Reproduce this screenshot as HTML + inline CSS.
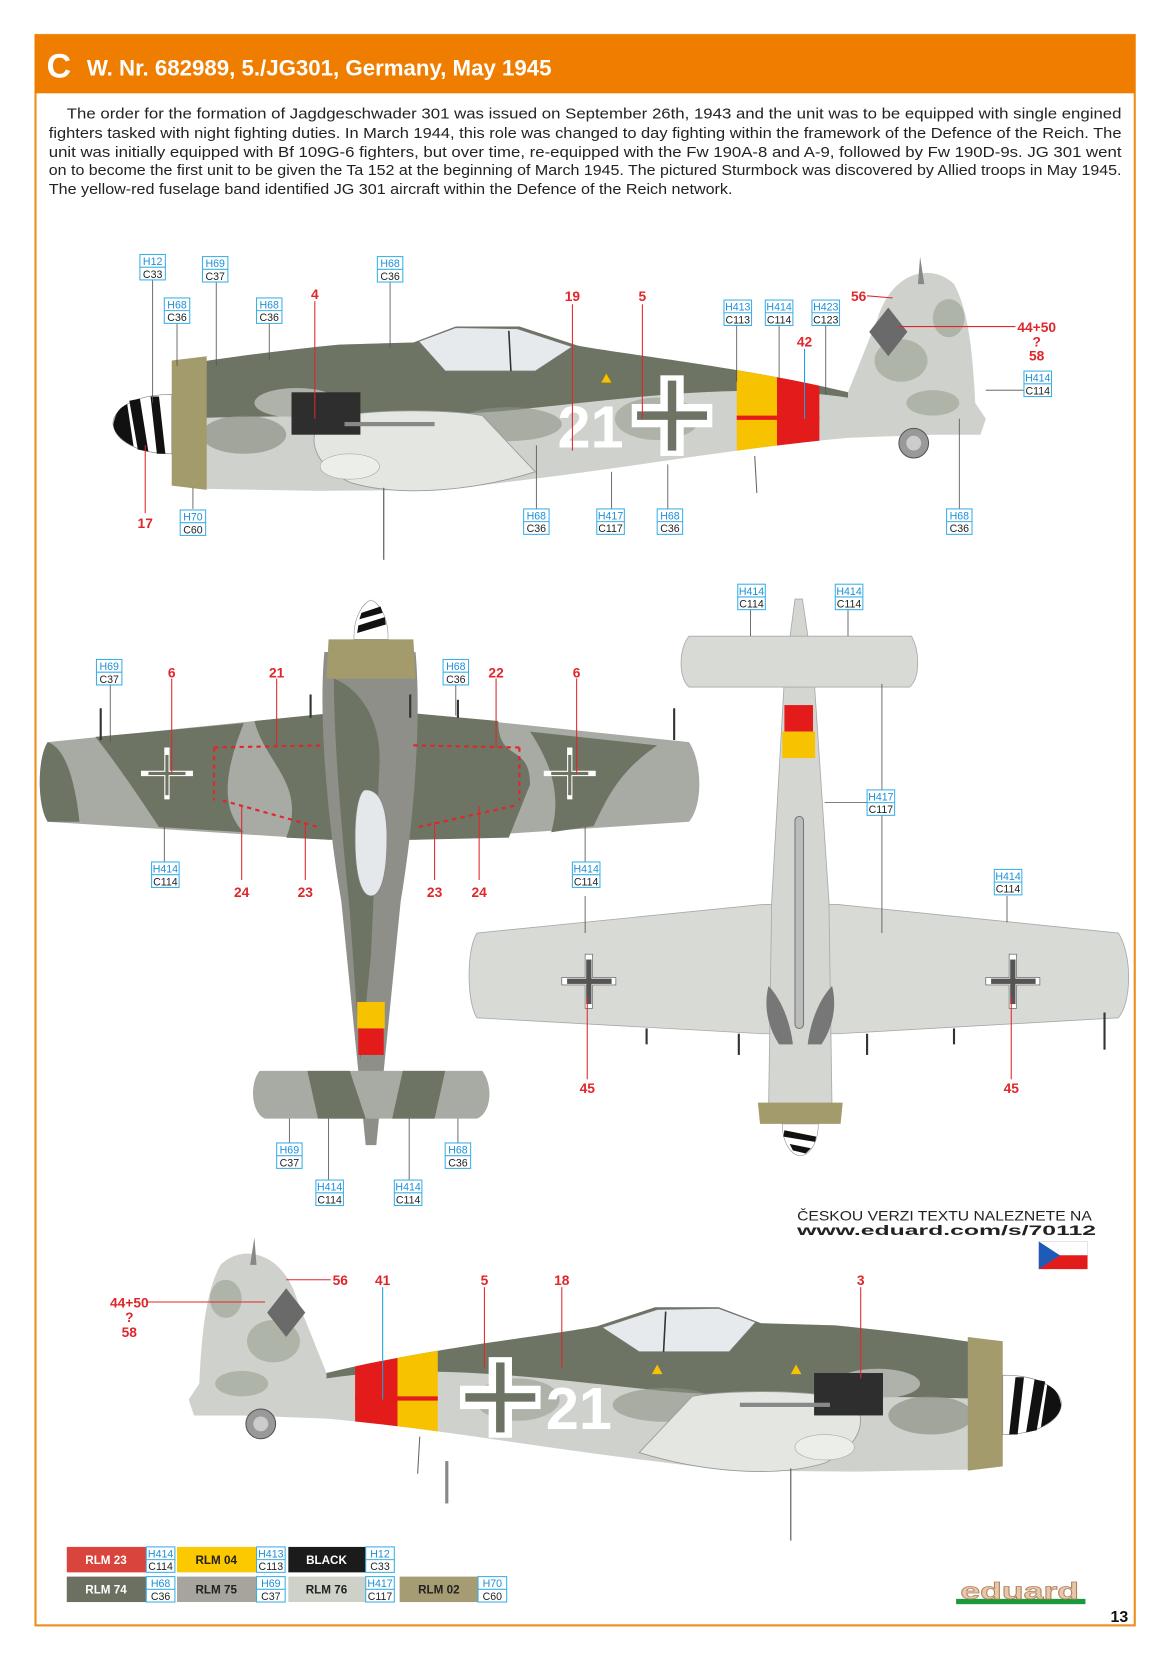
<!DOCTYPE html>
<html><head><meta charset="utf-8">
<style>
html,body{margin:0;padding:0;background:#fff;}
svg{display:block;}
.t{font-family:"Liberation Sans",Arial,sans-serif;}
.lb{font-family:"Liberation Sans",sans-serif;font-size:10px;}
.r{font-family:"Liberation Sans",sans-serif;font-size:13px;fill:#e0262a;font-weight:bold;text-anchor:middle;}
</style></head><body>
<svg width="1166" height="1654" viewBox="0 0 1100 1560" preserveAspectRatio="none" xmlns="http://www.w3.org/2000/svg">
<defs>
<clipPath id="fus"><path d="M165,345 C220,336 270,330 320,325 L390,323 L430,308 L490,308 L545,326 C600,336 700,346 800,370 L828,300 C842,255 880,248 900,268 C915,295 918,340 920,380 L930,395 L925,410 L880,410 L800,413 C700,422 600,440 500,452 L420,462 L300,463 L190,461 L165,457 Z"/></clipPath>
<g id="bk">
  <rect x="-38" y="-11" width="76" height="22" fill="#fff"/>
  <rect x="-11" y="-38" width="22" height="76" fill="#fff"/>
  <rect x="-33" y="-4" width="66" height="8" fill="#6d7464"/>
  <rect x="-4" y="-33" width="8" height="66" fill="#6d7464"/>
  <rect x="-4" y="-4" width="8" height="8" fill="#6d7464"/>
</g>
<g id="side">
  <path d="M165,345 C220,336 270,330 320,325 L390,323 L430,308 L490,308 L545,326 C600,336 700,346 800,370 L828,300 C842,255 880,248 900,268 C915,295 918,340 920,380 L930,395 L925,410 L880,410 L800,413 C700,422 600,440 500,452 L420,462 L300,463 L190,461 L165,457 Z" fill="#cfd2cc"/>
  <g clip-path="url(#fus)">
    <path d="M160,300 L800,300 L800,375 C700,360 600,375 500,385 C420,395 300,390 160,395 Z" fill="#6d7464"/>
    <ellipse cx="230" cy="410" rx="40" ry="18" fill="#8d9286" opacity=".7"/>
    <ellipse cx="480" cy="400" rx="50" ry="16" fill="#8d9286" opacity=".6"/>
    <ellipse cx="620" cy="395" rx="40" ry="20" fill="#8d9286" opacity=".5"/>
    <ellipse cx="850" cy="340" rx="25" ry="20" fill="#99a090" opacity=".6"/>
    <ellipse cx="895" cy="300" rx="15" ry="18" fill="#99a090" opacity=".6"/>
    <ellipse cx="880" cy="380" rx="25" ry="12" fill="#99a090" opacity=".6"/>
    <ellipse cx="280" cy="380" rx="40" ry="14" fill="#bfc2bb" opacity=".8"/>
    <rect x="695" y="300" width="38" height="170" fill="#f7c300"/>
    <rect x="733" y="300" width="40" height="170" fill="#e31b1b"/>
    <rect x="695" y="392" width="78" height="4" fill="#e31b1b"/>
  </g>
  <path d="M395,322 L430,309 L488,310 L540,327 L505,350 L420,350 Z" fill="#e6eaec" stroke="#777" stroke-width=".8"/>
  <line x1="480" y1="312" x2="482" y2="350" stroke="#333" stroke-width="1.5"/>
  <path d="M838,290 L856,313 L838,336 L820,313Z" fill="#6a6a6a"/>
  <path d="M868,242 L866,268 L872,268Z" fill="#888"/>
  <path d="M162,340 L195,336 L195,462 L162,458 Z" fill="#a39b6c"/>
  <path d="M162,372 C118,372 104,392 107,402 C110,416 130,428 162,428Z" fill="#fff" stroke="#888" stroke-width=".6"/>
  <path d="M122,378 L132,376 L140,426 L130,424Z M142,374 L150,374 L156,428 L148,428Z" fill="#111"/>
  <path d="M107,400 C109,388 114,384 120,381 L126,421 C115,416 107,408 107,400Z" fill="#111"/>
  <path d="M300,400 C320,385 420,385 455,392 L505,445 C450,462 380,470 330,455 C300,440 290,420 300,400Z" fill="#e3e6e1" stroke="#999" stroke-width=".8"/>
  <ellipse cx="330" cy="440" rx="28" ry="12" fill="#eceee9" stroke="#aaa" stroke-width=".6"/>
  <rect x="275" y="370" width="65" height="40" fill="#2e2e2e"/>
  <rect x="325" y="398" width="85" height="4" fill="#888"/>
  <circle cx="862" cy="418" r="14" fill="#999" stroke="#555"/>
  <circle cx="862" cy="418" r="7" fill="#ccc"/>
  <line x1="362" y1="460" x2="362" y2="528" stroke="#666" stroke-width="1.2"/>
  <line x1="712" y1="430" x2="714" y2="465" stroke="#666"/>
</g>
</defs>

<rect x="33.5" y="33" width="1037" height="1500" fill="none" stroke="#ee8c1c" stroke-width="2"/>
<rect x="33" y="33" width="1038" height="55" fill="#ef7d00"/>
<text x="44" y="73" class="t" font-size="32" font-weight="bold" fill="#fff">C</text>
<text x="82" y="71" class="t" font-size="21" font-weight="bold" fill="#fff">W. Nr. 682989, 5./JG301, Germany, May 1945</text>
<g class="t" font-size="13.6" fill="#222">
<text x="63" y="112" textLength="995" lengthAdjust="spacingAndGlyphs">The order for the formation of Jagdgeschwader 301 was issued on September 26th, 1943 and the unit was to be equipped with single engined</text>
<text x="46" y="130" textLength="1012" lengthAdjust="spacingAndGlyphs">fighters tasked with night fighting duties. In March 1944, this role was changed to day fighting within the framework of the Defence of the Reich. The</text>
<text x="46" y="148" textLength="1012" lengthAdjust="spacingAndGlyphs">unit was initially equipped with Bf 109G-6 fighters, but over time, re-equipped with the Fw 190A-8 and A-9, followed by Fw 190D-9s. JG 301 went</text>
<text x="46" y="165" textLength="1012" lengthAdjust="spacingAndGlyphs">on to become the first unit to be given the Ta 152 at the beginning of March 1945. The pictured Sturmbock was discovered by Allied troops in May 1945.</text>
<text x="46" y="183" textLength="645" lengthAdjust="spacingAndGlyphs">The yellow-red fuselage band identified JG 301 aircraft within the Defence of the Reich network.</text>
</g>

<!-- TOP SIDE VIEW -->
<use href="#side"/>
<use href="#bk" transform="translate(634,392)"/>
<text x="526" y="422" class="t" font-size="56" font-weight="bold" fill="#fff">21</text>
<path d="M572,352 L577,361 L567,361Z" fill="#f7c300" stroke="#a08000" stroke-width=".5"/>

<!-- BOTTOM SIDE VIEW -->
<g transform="translate(1108,925) scale(-1,1)"><use href="#side"/></g>
<use href="#bk" transform="translate(472,1318)"/>
<text x="515" y="1348" class="t" font-size="56" font-weight="bold" fill="#fff">21</text>
<path d="M620,1287 L625,1296 L615,1296Z" fill="#f7c300"/><path d="M751,1287 L756,1296 L746,1296Z" fill="#f7c300"/>
<rect x="420" y="1378" width="3" height="40" fill="#888"/>

<!-- TOP PLAN VIEW -->
<path d="M45,700 L310,673 L392,673 L650,700 C663,720 663,760 650,775 L392,792 L310,792 L45,775 C35,760 35,715 45,700Z" fill="#a8aaa4"/>
<path d="M90,695 L230,682 C215,720 205,760 230,785 L150,780 C130,750 110,720 90,695Z" fill="#6d7464"/>
<path d="M240,680 L310,673 L392,673 L470,680 C470,720 500,700 500,740 L480,790 L392,792 L310,792 L270,790 C290,740 250,720 240,680Z" fill="#6d7464"/>
<path d="M500,690 L620,703 C580,730 570,760 560,779 L520,785 C530,750 520,720 500,690Z" fill="#6d7464"/>
<path d="M45,700 C60,705 70,730 75,775 L45,775 C35,760 35,715 45,700Z" fill="#6d7464"/>
<path d="M306,615 C300,680 310,780 322,850 L337,1000 L345,1080 L355,1080 L363,1000 L378,850 C390,780 398,680 392,615 Z" fill="#8d8f88"/>
<path d="M315,640 C340,650 360,680 358,720 L350,900 L340,1000 L330,860 C322,780 315,700 315,640Z" fill="#6d7464"/>
<path d="M345,745 C358,745 365,760 365,790 C365,830 358,845 350,845 C342,845 335,830 335,790 C335,760 340,745 345,745Z" fill="#e4e8ea" stroke="#888" stroke-width=".6"/>
<path d="M310,603 L390,603 L392,640 L308,640Z" fill="#a39b6c"/>
<path d="M334,603 C333,582 343,568 350,566 C357,568 367,582 366,603Z" fill="#fff" stroke="#999" stroke-width=".6"/>
<path d="M338,590 L363,582 L364,589 L337,597Z M341,578 L359,572 L361,578 L339,584Z" fill="#111"/>
<rect x="337" y="945" width="26" height="25" fill="#f7c300"/><rect x="338" y="970" width="24" height="25" fill="#e31b1b"/>
<path d="M245,1010 L455,1010 C466,1025 463,1050 450,1055 L250,1055 C237,1050 235,1022 245,1010Z" fill="#a8aaa4"/>
<path d="M290,1010 L330,1010 L345,1055 L300,1055Z M380,1010 L420,1010 L410,1055 L370,1055Z" fill="#6d7464"/>
<g fill="#fff"><path d="M155,705 h5 v22 h22 v5 h-22 v22 h-5 v-22 h-22 v-5 h22z"/><path d="M535,705 h5 v22 h22 v5 h-22 v22 h-5 v-22 h-22 v-5 h22z"/></g>
<rect x="156" y="712" width="3" height="38" fill="#6d7464"/><rect x="140" y="728" width="35" height="3" fill="#6d7464"/>
<rect x="536" y="712" width="3" height="38" fill="#6d7464"/><rect x="520" y="728" width="35" height="3" fill="#6d7464"/>
<g stroke="#e0262a" stroke-dasharray="4,4" stroke-width="2" fill="none"><path d="M202,705 L305,703 M202,705 L202,755 M210,755 L300,780"/><path d="M390,703 L490,705 M490,705 L490,755 M485,760 L395,780"/></g>
<g stroke="#333" stroke-width="2"><line x1="293" y1="655" x2="293" y2="677"/><line x1="387" y1="655" x2="387" y2="677"/><line x1="432" y1="660" x2="432" y2="677"/><line x1="636" y1="668" x2="636" y2="698"/><line x1="95" y1="668" x2="95" y2="698"/></g>

<!-- BOTTOM PLAN VIEW -->
<path d="M450,880 L720,853 L790,853 L1055,880 C1068,900 1068,945 1055,960 L790,975 L720,975 L450,960 C440,945 440,895 450,880Z" fill="#d7dad5" stroke="#aaa" stroke-width=".8"/>
<path d="M725,1050 L785,1050 L782,850 L768,640 L757,565 L750,565 L740,640 L728,850Z" fill="#d3d6d1" stroke="#aaa" stroke-width=".8"/>
<path d="M650,600 L860,600 C868,615 868,640 858,648 L650,648 C640,640 640,612 650,600Z" fill="#d7dad5" stroke="#aaa" stroke-width=".8"/>
<rect x="740" y="665" width="27" height="25" fill="#e31b1b"/><rect x="738" y="690" width="31" height="25" fill="#f7c300"/>
<rect x="750" y="770" width="8" height="200" rx="4" fill="#bbb" stroke="#777"/>
<path d="M725,930 C735,940 745,960 748,985 L735,985 C725,970 720,950 725,930Z M785,930 C775,940 765,960 762,985 L775,985 C785,970 790,950 785,930Z" fill="#777"/>
<path d="M715,1040 L795,1040 L793,1060 L717,1060Z" fill="#a39b6c"/>
<path d="M738,1060 C738,1080 748,1090 755,1090 C762,1090 772,1080 772,1060Z" fill="#fff" stroke="#999" stroke-width=".6"/>
<path d="M740,1066 L770,1072 L769,1077 L739,1072Z M745,1079 L765,1083 L760,1088 L748,1085Z" fill="#111"/>
<g fill="#fff" stroke="#555" stroke-width=".6"><path d="M552,900 h7 v22 h22 v7 h-22 v22 h-7 v-22 h-22 v-7 h22z"/><path d="M952,900 h7 v22 h22 v7 h-22 v22 h-7 v-22 h-22 v-7 h22z"/></g>
<rect x="553" y="905" width="5" height="42" fill="#555"/><rect x="535" y="923" width="42" height="5" fill="#555"/>
<rect x="953" y="905" width="5" height="42" fill="#555"/><rect x="935" y="923" width="42" height="5" fill="#555"/>
<g stroke="#333" stroke-width="2"><line x1="697" y1="975" x2="697" y2="995"/><line x1="818" y1="975" x2="818" y2="995"/><line x1="610" y1="970" x2="610" y2="985"/><line x1="900" y1="970" x2="900" y2="985"/><line x1="1042" y1="955" x2="1042" y2="990"/></g>

<g stroke="#555" stroke-width=".8" fill="none">
<line x1="144" y1="264" x2="144" y2="380"/><line x1="204" y1="266" x2="204" y2="345"/><line x1="368" y1="266" x2="368" y2="328"/>
<line x1="167" y1="305" x2="167" y2="345"/><line x1="254" y1="305" x2="254" y2="340"/>
<line x1="695" y1="307" x2="695" y2="360"/><line x1="735" y1="307" x2="735" y2="358"/><line x1="779" y1="307" x2="779" y2="372"/>
<line x1="930" y1="368" x2="966" y2="368"/><line x1="182" y1="460" x2="182" y2="480"/>
<line x1="506" y1="420" x2="506" y2="480"/><line x1="577" y1="445" x2="577" y2="480"/><line x1="630" y1="438" x2="630" y2="480"/><line x1="905" y1="395" x2="905" y2="480"/>
<line x1="104" y1="646" x2="104" y2="700"/><line x1="430" y1="646" x2="430" y2="675"/>
<line x1="155" y1="780" x2="155" y2="813"/><line x1="552" y1="780" x2="552" y2="813"/>
<line x1="273" y1="1055" x2="273" y2="1078"/><line x1="432" y1="1055" x2="432" y2="1078"/>
<line x1="310" y1="1055" x2="310" y2="1113"/><line x1="386" y1="1055" x2="386" y2="1113"/>
<line x1="708" y1="575" x2="708" y2="600"/><line x1="800" y1="575" x2="800" y2="600"/>
<line x1="832" y1="645" x2="832" y2="880"/><line x1="778" y1="757" x2="818" y2="757"/>
<line x1="552" y1="845" x2="552" y2="880"/><line x1="950" y1="845" x2="950" y2="870"/>
</g>
<g stroke="#e0262a" stroke-width="1" fill="none">
<line x1="297" y1="284" x2="297" y2="395"/><line x1="540" y1="287" x2="540" y2="425"/><line x1="606" y1="287" x2="606" y2="395"/>
<line x1="818" y1="279" x2="842" y2="281"/><line x1="848" y1="308" x2="958" y2="308"/><line x1="137" y1="484" x2="137" y2="420"/>
<line x1="162" y1="640" x2="162" y2="730"/><line x1="261" y1="640" x2="261" y2="705"/><line x1="468" y1="640" x2="468" y2="705"/><line x1="544" y1="640" x2="544" y2="730"/>
<line x1="228" y1="830" x2="228" y2="760"/><line x1="288" y1="830" x2="288" y2="775"/><line x1="410" y1="830" x2="410" y2="775"/><line x1="452" y1="830" x2="452" y2="760"/>
<line x1="554" y1="1018" x2="554" y2="940"/><line x1="954" y1="1018" x2="954" y2="940"/>
<line x1="270" y1="1207" x2="312" y2="1207"/><line x1="138" y1="1228" x2="250" y2="1228"/>
<line x1="457" y1="1214" x2="457" y2="1290"/><line x1="530" y1="1214" x2="530" y2="1290"/><line x1="812" y1="1214" x2="812" y2="1300"/>
</g>
<line x1="759" y1="329" x2="759" y2="395" stroke="#1fa0e0"/><line x1="361" y1="1214" x2="361" y2="1320" stroke="#1fa0e0"/>

<g class="r">
<text x="297" y="282">4</text><text x="540" y="284">19</text><text x="606" y="284">5</text><text x="810" y="284">56</text><text x="759" y="327">42</text>
<text x="978" y="313">44+50</text><text x="978" y="327">?</text><text x="978" y="340">58</text><text x="137" y="498">17</text>
<text x="162" y="639">6</text><text x="261" y="639">21</text><text x="468" y="639">22</text><text x="544" y="639">6</text>
<text x="228" y="846">24</text><text x="288" y="846">23</text><text x="410" y="846">23</text><text x="452" y="846">24</text>
<text x="554" y="1031">45</text><text x="954" y="1031">45</text>
<text x="321" y="1212">56</text><text x="361" y="1212">41</text><text x="457" y="1212">5</text><text x="530" y="1212">18</text><text x="812" y="1212">3</text>
<text x="122" y="1233">44+50</text><text x="122" y="1247">?</text><text x="122" y="1261">58</text>
</g>

<g class="lb">
<g transform="translate(132,240)"><rect width="24" height="24" fill="#fff" stroke="#3ab0e8"/><line x1="0" y1="12" x2="24" y2="12" stroke="#3ab0e8"/><text x="12" y="10" text-anchor="middle" fill="#1e8fd6">H12</text><text x="12" y="22" text-anchor="middle" fill="#222">C33</text></g>
<g transform="translate(191,242)"><rect width="24" height="24" fill="#fff" stroke="#3ab0e8"/><line x1="0" y1="12" x2="24" y2="12" stroke="#3ab0e8"/><text x="12" y="10" text-anchor="middle" fill="#1e8fd6">H69</text><text x="12" y="22" text-anchor="middle" fill="#222">C37</text></g>
<g transform="translate(356,242)"><rect width="24" height="24" fill="#fff" stroke="#3ab0e8"/><line x1="0" y1="12" x2="24" y2="12" stroke="#3ab0e8"/><text x="12" y="10" text-anchor="middle" fill="#1e8fd6">H68</text><text x="12" y="22" text-anchor="middle" fill="#222">C36</text></g>
<g transform="translate(155,281)"><rect width="24" height="24" fill="#fff" stroke="#3ab0e8"/><line x1="0" y1="12" x2="24" y2="12" stroke="#3ab0e8"/><text x="12" y="10" text-anchor="middle" fill="#1e8fd6">H68</text><text x="12" y="22" text-anchor="middle" fill="#222">C36</text></g>
<g transform="translate(242,281)"><rect width="24" height="24" fill="#fff" stroke="#3ab0e8"/><line x1="0" y1="12" x2="24" y2="12" stroke="#3ab0e8"/><text x="12" y="10" text-anchor="middle" fill="#1e8fd6">H68</text><text x="12" y="22" text-anchor="middle" fill="#222">C36</text></g>
<g transform="translate(683,283)"><rect width="26" height="24" fill="#fff" stroke="#3ab0e8"/><line x1="0" y1="12" x2="26" y2="12" stroke="#3ab0e8"/><text x="13" y="10" text-anchor="middle" fill="#1e8fd6">H413</text><text x="13" y="22" text-anchor="middle" fill="#222">C113</text></g>
<g transform="translate(722,283)"><rect width="26" height="24" fill="#fff" stroke="#3ab0e8"/><line x1="0" y1="12" x2="26" y2="12" stroke="#3ab0e8"/><text x="13" y="10" text-anchor="middle" fill="#1e8fd6">H414</text><text x="13" y="22" text-anchor="middle" fill="#222">C114</text></g>
<g transform="translate(766,283)"><rect width="26" height="24" fill="#fff" stroke="#3ab0e8"/><line x1="0" y1="12" x2="26" y2="12" stroke="#3ab0e8"/><text x="13" y="10" text-anchor="middle" fill="#1e8fd6">H423</text><text x="13" y="22" text-anchor="middle" fill="#222">C123</text></g>
<g transform="translate(966,350)"><rect width="26" height="24" fill="#fff" stroke="#3ab0e8"/><line x1="0" y1="12" x2="26" y2="12" stroke="#3ab0e8"/><text x="13" y="10" text-anchor="middle" fill="#1e8fd6">H414</text><text x="13" y="22" text-anchor="middle" fill="#222">C114</text></g>
<g transform="translate(170,481)"><rect width="24" height="24" fill="#fff" stroke="#3ab0e8"/><line x1="0" y1="12" x2="24" y2="12" stroke="#3ab0e8"/><text x="12" y="10" text-anchor="middle" fill="#1e8fd6">H70</text><text x="12" y="22" text-anchor="middle" fill="#222">C60</text></g>
<g transform="translate(494,480)"><rect width="24" height="24" fill="#fff" stroke="#3ab0e8"/><line x1="0" y1="12" x2="24" y2="12" stroke="#3ab0e8"/><text x="12" y="10" text-anchor="middle" fill="#1e8fd6">H68</text><text x="12" y="22" text-anchor="middle" fill="#222">C36</text></g>
<g transform="translate(563,480)"><rect width="26" height="24" fill="#fff" stroke="#3ab0e8"/><line x1="0" y1="12" x2="26" y2="12" stroke="#3ab0e8"/><text x="13" y="10" text-anchor="middle" fill="#1e8fd6">H417</text><text x="13" y="22" text-anchor="middle" fill="#222">C117</text></g>
<g transform="translate(620,480)"><rect width="24" height="24" fill="#fff" stroke="#3ab0e8"/><line x1="0" y1="12" x2="24" y2="12" stroke="#3ab0e8"/><text x="12" y="10" text-anchor="middle" fill="#1e8fd6">H68</text><text x="12" y="22" text-anchor="middle" fill="#222">C36</text></g>
<g transform="translate(893,480)"><rect width="24" height="24" fill="#fff" stroke="#3ab0e8"/><line x1="0" y1="12" x2="24" y2="12" stroke="#3ab0e8"/><text x="12" y="10" text-anchor="middle" fill="#1e8fd6">H68</text><text x="12" y="22" text-anchor="middle" fill="#222">C36</text></g>
<g transform="translate(91,622)"><rect width="24" height="24" fill="#fff" stroke="#3ab0e8"/><line x1="0" y1="12" x2="24" y2="12" stroke="#3ab0e8"/><text x="12" y="10" text-anchor="middle" fill="#1e8fd6">H69</text><text x="12" y="22" text-anchor="middle" fill="#222">C37</text></g>
<g transform="translate(418,622)"><rect width="24" height="24" fill="#fff" stroke="#3ab0e8"/><line x1="0" y1="12" x2="24" y2="12" stroke="#3ab0e8"/><text x="12" y="10" text-anchor="middle" fill="#1e8fd6">H68</text><text x="12" y="22" text-anchor="middle" fill="#222">C36</text></g>
<g transform="translate(143,813)"><rect width="26" height="24" fill="#fff" stroke="#3ab0e8"/><line x1="0" y1="12" x2="26" y2="12" stroke="#3ab0e8"/><text x="13" y="10" text-anchor="middle" fill="#1e8fd6">H414</text><text x="13" y="22" text-anchor="middle" fill="#222">C114</text></g>
<g transform="translate(540,813)"><rect width="26" height="24" fill="#fff" stroke="#3ab0e8"/><line x1="0" y1="12" x2="26" y2="12" stroke="#3ab0e8"/><text x="13" y="10" text-anchor="middle" fill="#1e8fd6">H414</text><text x="13" y="22" text-anchor="middle" fill="#222">C114</text></g>
<g transform="translate(261,1078)"><rect width="24" height="24" fill="#fff" stroke="#3ab0e8"/><line x1="0" y1="12" x2="24" y2="12" stroke="#3ab0e8"/><text x="12" y="10" text-anchor="middle" fill="#1e8fd6">H69</text><text x="12" y="22" text-anchor="middle" fill="#222">C37</text></g>
<g transform="translate(420,1078)"><rect width="24" height="24" fill="#fff" stroke="#3ab0e8"/><line x1="0" y1="12" x2="24" y2="12" stroke="#3ab0e8"/><text x="12" y="10" text-anchor="middle" fill="#1e8fd6">H68</text><text x="12" y="22" text-anchor="middle" fill="#222">C36</text></g>
<g transform="translate(298,1113)"><rect width="26" height="24" fill="#fff" stroke="#3ab0e8"/><line x1="0" y1="12" x2="26" y2="12" stroke="#3ab0e8"/><text x="13" y="10" text-anchor="middle" fill="#1e8fd6">H414</text><text x="13" y="22" text-anchor="middle" fill="#222">C114</text></g>
<g transform="translate(372,1113)"><rect width="26" height="24" fill="#fff" stroke="#3ab0e8"/><line x1="0" y1="12" x2="26" y2="12" stroke="#3ab0e8"/><text x="13" y="10" text-anchor="middle" fill="#1e8fd6">H414</text><text x="13" y="22" text-anchor="middle" fill="#222">C114</text></g>
<g transform="translate(696,551)"><rect width="26" height="24" fill="#fff" stroke="#3ab0e8"/><line x1="0" y1="12" x2="26" y2="12" stroke="#3ab0e8"/><text x="13" y="10" text-anchor="middle" fill="#1e8fd6">H414</text><text x="13" y="22" text-anchor="middle" fill="#222">C114</text></g>
<g transform="translate(788,551)"><rect width="26" height="24" fill="#fff" stroke="#3ab0e8"/><line x1="0" y1="12" x2="26" y2="12" stroke="#3ab0e8"/><text x="13" y="10" text-anchor="middle" fill="#1e8fd6">H414</text><text x="13" y="22" text-anchor="middle" fill="#222">C114</text></g>
<g transform="translate(818,745)"><rect width="26" height="24" fill="#fff" stroke="#3ab0e8"/><line x1="0" y1="12" x2="26" y2="12" stroke="#3ab0e8"/><text x="13" y="10" text-anchor="middle" fill="#1e8fd6">H417</text><text x="13" y="22" text-anchor="middle" fill="#222">C117</text></g>
<g transform="translate(938,820)"><rect width="26" height="24" fill="#fff" stroke="#3ab0e8"/><line x1="0" y1="12" x2="26" y2="12" stroke="#3ab0e8"/><text x="13" y="10" text-anchor="middle" fill="#1e8fd6">H414</text><text x="13" y="22" text-anchor="middle" fill="#222">C114</text></g>
</g>

<text x="752" y="1151" class="t" font-size="13" fill="#222" textLength="278" lengthAdjust="spacingAndGlyphs">ČESKOU VERZI TEXTU NALEZNETE NA</text>
<text x="752" y="1165" class="t" font-size="13" font-weight="bold" fill="#222" textLength="282" lengthAdjust="spacingAndGlyphs">www.eduard.com/s/70112</text>
<rect x="980" y="1171" width="46" height="13" fill="#fff" stroke="#ccc" stroke-width=".5"/><rect x="980" y="1184" width="46" height="13" fill="#e31b1b"/>
<path d="M980,1171 L1000,1184 L980,1197Z" fill="#1e5bb8"/>

<g class="t" font-size="11" font-weight="bold" text-anchor="middle">
<rect x="63" y="1459" width="75" height="24" fill="#d9443c"/><text x="100" y="1475" fill="#fff">RLM 23</text>
<rect x="167" y="1459" width="75" height="24" fill="#fcc800"/><text x="204" y="1475" fill="#222">RLM 04</text>
<rect x="272" y="1459" width="73" height="24" fill="#1b1b1b"/><text x="308" y="1475" fill="#fff">BLACK</text>
<rect x="63" y="1487" width="75" height="24" fill="#6b7061"/><text x="100" y="1503" fill="#fff">RLM 74</text>
<rect x="167" y="1487" width="75" height="24" fill="#a6a49c"/><text x="204" y="1503" fill="#222">RLM 75</text>
<rect x="272" y="1487" width="73" height="24" fill="#cdd1c8"/><text x="308" y="1503" fill="#222">RLM 76</text>
<rect x="377" y="1487" width="74" height="24" fill="#a69c74"/><text x="414" y="1503" fill="#222">RLM 02</text>
</g>
<g class="lb">
<g transform="translate(138,1459)"><rect width="27" height="24" fill="#fff" stroke="#3ab0e8"/><line x1="0" y1="12" x2="27" y2="12" stroke="#3ab0e8"/><text x="13.5" y="10" text-anchor="middle" fill="#1e8fd6">H414</text><text x="13.5" y="22" text-anchor="middle" fill="#222">C114</text></g>
<g transform="translate(242,1459)"><rect width="27" height="24" fill="#fff" stroke="#3ab0e8"/><line x1="0" y1="12" x2="27" y2="12" stroke="#3ab0e8"/><text x="13.5" y="10" text-anchor="middle" fill="#1e8fd6">H413</text><text x="13.5" y="22" text-anchor="middle" fill="#222">C113</text></g>
<g transform="translate(345,1459)"><rect width="27" height="24" fill="#fff" stroke="#3ab0e8"/><line x1="0" y1="12" x2="27" y2="12" stroke="#3ab0e8"/><text x="13.5" y="10" text-anchor="middle" fill="#1e8fd6">H12</text><text x="13.5" y="22" text-anchor="middle" fill="#222">C33</text></g>
<g transform="translate(138,1487)"><rect width="27" height="24" fill="#fff" stroke="#3ab0e8"/><line x1="0" y1="12" x2="27" y2="12" stroke="#3ab0e8"/><text x="13.5" y="10" text-anchor="middle" fill="#1e8fd6">H68</text><text x="13.5" y="22" text-anchor="middle" fill="#222">C36</text></g>
<g transform="translate(242,1487)"><rect width="27" height="24" fill="#fff" stroke="#3ab0e8"/><line x1="0" y1="12" x2="27" y2="12" stroke="#3ab0e8"/><text x="13.5" y="10" text-anchor="middle" fill="#1e8fd6">H69</text><text x="13.5" y="22" text-anchor="middle" fill="#222">C37</text></g>
<g transform="translate(345,1487)"><rect width="27" height="24" fill="#fff" stroke="#3ab0e8"/><line x1="0" y1="12" x2="27" y2="12" stroke="#3ab0e8"/><text x="13.5" y="10" text-anchor="middle" fill="#1e8fd6">H417</text><text x="13.5" y="22" text-anchor="middle" fill="#222">C117</text></g>
<g transform="translate(451,1487)"><rect width="27" height="24" fill="#fff" stroke="#3ab0e8"/><line x1="0" y1="12" x2="27" y2="12" stroke="#3ab0e8"/><text x="13.5" y="10" text-anchor="middle" fill="#1e8fd6">H70</text><text x="13.5" y="22" text-anchor="middle" fill="#222">C60</text></g>
</g>

<rect x="902" y="1508" width="122" height="5" fill="#1a9a3a"/>
<text x="962" y="1508" class="t" font-size="22" font-weight="bold" text-anchor="middle" fill="#e8c8a8" stroke="#b08060" stroke-width=".7" textLength="112" lengthAdjust="spacingAndGlyphs">eduard</text>
<text x="1056" y="1530" class="t" font-size="15" font-weight="bold" text-anchor="middle" fill="#111">13</text>
</svg>
</body></html>
